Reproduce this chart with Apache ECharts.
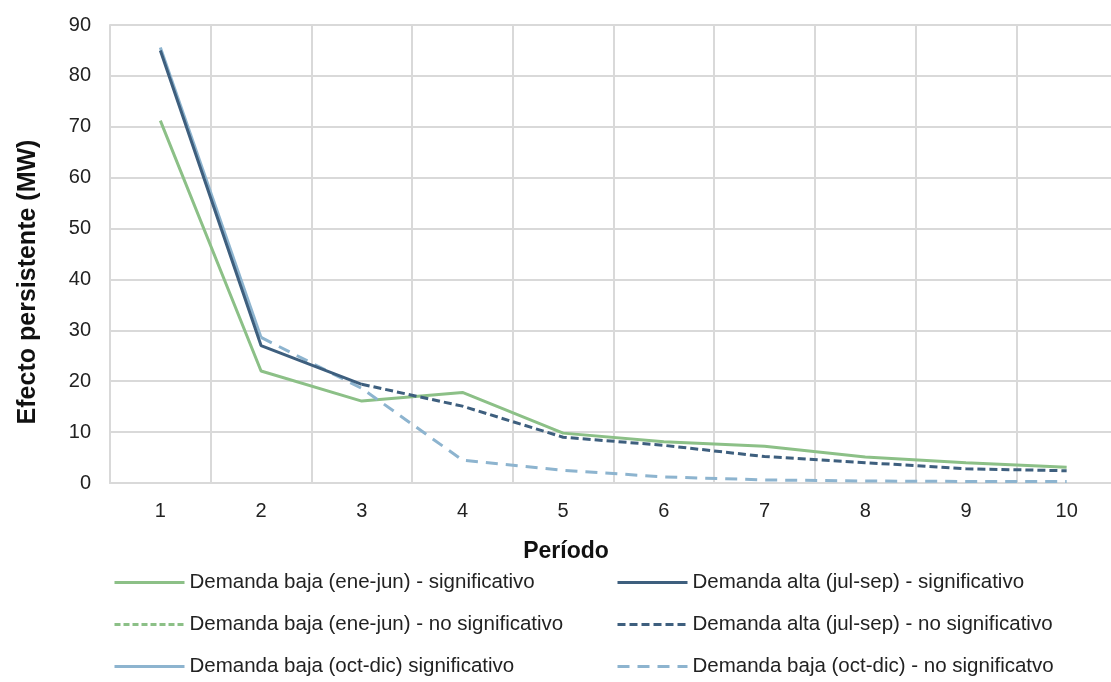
<!DOCTYPE html>
<html><head><meta charset="utf-8">
<script src="https://cdn.jsdelivr.net/npm/echarts@6/dist/echarts.min.js"></script>
<style>html,body{margin:0;padding:0;background:#fff;overflow:hidden;width:1111px;height:682px}#c{width:1117px;height:682px}</style>
</head><body><div id="c"></div>
<script>
var categories = ['1','2','3','4','5','6','7','8','9','10'];
var bajaEneJunSig   = [71.2, 22.0, 16.1, 17.8, 9.8, 8.1, 7.2, 5.1, 4.0, 3.1];
var bajaEneJunNoSig = [null, null, null, null, null, null, null, null, null, null];
var altaJulSepSig   = [85.0, 27.0, 19.4, null, null, null, null, null, null, null];
var altaJulSepNoSig = [null, null, 19.4, 15.1, 9.0, 7.4, 5.2, 4.0, 2.8, 2.4];
var bajaOctDicSig   = [85.6, 28.6, null, null, null, null, null, null, null, null];
var bajaOctDicNoSig = [null, 28.6, 18.6, 4.5, 2.5, 1.2, 0.6, 0.4, 0.3, 0.3];
var yTicks = {min: 0, max: 90, interval: 10};
var yTitle = 'Efecto persistente (MW)';
var xTitle = 'Período';

var FONT = '"Liberation Sans", Arial, sans-serif';
var GREEN = '#8cc087', DARK = '#3e5f7e', LIGHT = '#8db4cf';

function s(name, data, color, type) {
  return {name: name, type: 'line', data: data, symbol: 'none', smooth: false,
    connectNulls: false, itemStyle: {color: color},
    lineStyle: {color: color, width: 3, type: type, cap: 'butt'}};
}
var series = [
  s('Demanda baja (ene-jun) - significativo', bajaEneJunSig, GREEN, 'solid'),
  s('Demanda baja (ene-jun) - no significativo', bajaEneJunNoSig, GREEN, [6, 3]),
  s('Demanda baja (oct-dic) significativo', bajaOctDicSig, LIGHT, 'solid'),
  s('Demanda baja (oct-dic) - no significatvo', bajaOctDicNoSig, LIGHT, [12, 8]),
  s('Demanda alta (jul-sep) - no significativo', altaJulSepNoSig, DARK, [8, 4]),
  s('Demanda alta (jul-sep) - significativo', altaJulSepSig, DARK, 'solid')
];
var legendText = {fontFamily: FONT, fontSize: 20.5, color: '#222'};
var legendBase = {orient: 'vertical', top: 572, height: 200, itemWidth: 70, itemHeight: 12, itemGap: 21,
  padding: 0, textStyle: legendText, itemStyle: {opacity: 0}, lineStyle: {width: 3}};
var chart = echarts.init(document.getElementById('c'), null, {renderer: 'canvas', width: 1117, height: 682});
chart.setOption({
  animation: false,
  backgroundColor: '#fff',
  title: {text: xTitle, left: 566, top: 540, textAlign: 'center', padding: 0,
    textStyle: {fontFamily: FONT, fontSize: 23, fontWeight: 'bold', color: '#111'}},
  graphic: [{type: 'text', x: 28, y: 282, rotation: Math.PI / 2,
    style: {text: yTitle, align: 'center', verticalAlign: 'middle',
      font: 'bold 25px ' + FONT, fill: '#111'}}],
  grid: {left: 110, right: 0, top: 25, bottom: 199, containLabel: false},
  legend: [
    Object.assign({}, legendBase, {left: 113,
      data: ['Demanda baja (ene-jun) - significativo', 'Demanda baja (ene-jun) - no significativo', 'Demanda baja (oct-dic) significativo']}),
    Object.assign({}, legendBase, {left: 616,
      data: ['Demanda alta (jul-sep) - significativo', 'Demanda alta (jul-sep) - no significativo', 'Demanda baja (oct-dic) - no significatvo']})
  ],
  xAxis: {type: 'category', data: categories, boundaryGap: true,
    axisLine: {lineStyle: {color: '#d9d9d9', width: 2}},
    axisTick: {show: false},
    axisLabel: {fontFamily: FONT, fontSize: 20, color: '#222', margin: 18},
    splitLine: {show: true, lineStyle: {color: '#d9d9d9', width: 2}}},
  yAxis: {type: 'value', min: yTicks.min, max: yTicks.max, interval: yTicks.interval,
    axisLine: {show: true, lineStyle: {color: '#d9d9d9', width: 2}},
    axisTick: {show: false},
    axisLabel: {fontFamily: FONT, fontSize: 20, color: '#222', margin: 19},
    splitLine: {show: true, lineStyle: {color: '#d9d9d9', width: 2}}},
  series: series
});
</script></body></html>
